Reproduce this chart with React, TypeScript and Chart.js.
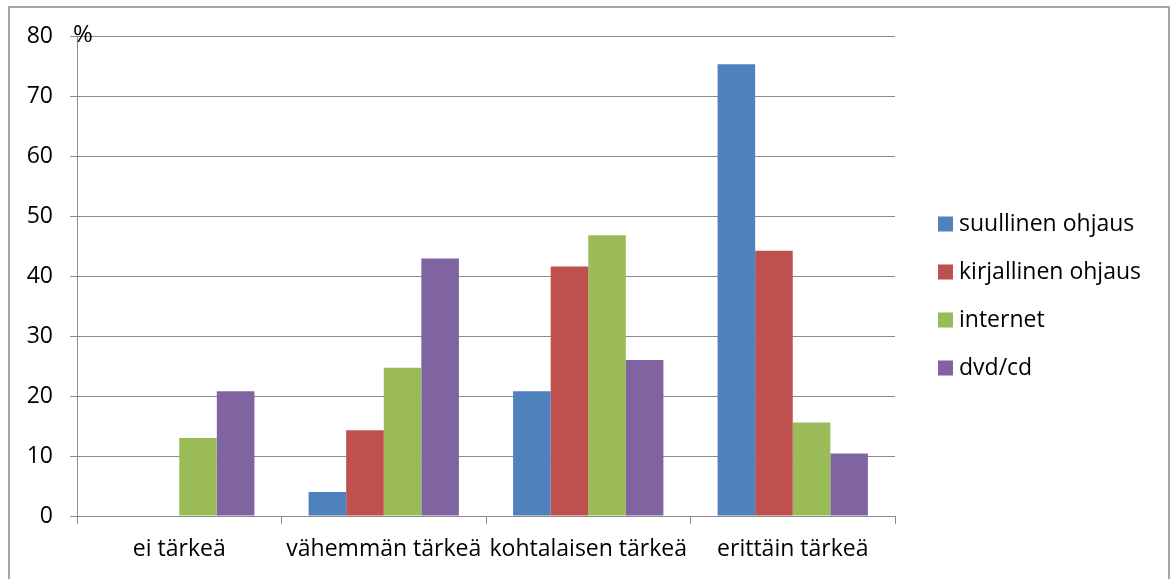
import React, { useEffect, useRef } from "react";
import { Chart, registerables } from "chart.js";

Chart.register(...registerables);

const categories = ["ei tärkeä", "vähemmän tärkeä", "kohtalaisen tärkeä", "erittäin tärkeä"];
const seriesNames = ["suullinen ohjaus", "kirjallinen ohjaus", "internet", "dvd/cd"];
const suullinen = [0, 4.0, 20.8, 75.3];
const kirjallinen = [0, 14.3, 41.6, 44.2];
const internet = [13.0, 24.7, 46.8, 15.6];
const dvdcd = [20.8, 42.9, 26.0, 10.4];
const seriesColors = ["#4F81BD", "#C0504D", "#9BBB59", "#8064A2"];
const yMin = 0;
const yMax = 80;
const yStep = 10;
const unitLabel = "%";

const FONT = "'Open Sans', 'Noto Sans', sans-serif";
const FONT_SIZE = 23;
const GRID = "#8c8c8c";

export default function App() {
  const ref = useRef<HTMLCanvasElement | null>(null);

  useEffect(() => {
    if (!ref.current) return;
    const values = [suullinen, kirjallinen, internet, dvdcd];

    const extras = {
      id: "extras",
      afterDraw(chart: any) {
        const ctx = chart.ctx;
        const ys = chart.scales.y;
        const area = chart.chartArea;
        ctx.save();
        ctx.fillStyle = "#000";
        ctx.font = `${FONT_SIZE + 1}px ${FONT}`;
        ctx.textBaseline = "middle";
        ctx.textAlign = "left";
        ctx.fillText(unitLabel, area.left - 4, ys.getPixelForValue(yMax) - 1);

        // legend
        ctx.font = `${FONT_SIZE}px ${FONT}`;
        const n = chart.data.datasets.length;
        const spacing = 48;
        const cy = 288;
        const startY = cy - ((n - 1) * spacing) / 2;
        const bx = 928;
        chart.data.datasets.forEach((ds: any, i: number) => {
          const y = startY + i * spacing;
          ctx.fillStyle = ds.backgroundColor;
          ctx.fillRect(bx, y - 7.5, 15, 15);
          ctx.fillStyle = "#000";
          ctx.fillText(ds.label, bx + 21, y);
        });
        ctx.restore();
      },
    };

    const chart = new Chart(ref.current, {
      type: "bar",
      data: {
        labels: categories,
        datasets: seriesNames.map((name, i) => ({
          label: name,
          data: values[i],
          backgroundColor: seriesColors[i],
          borderWidth: 0,
          barPercentage: 1,
          categoryPercentage: 0.735,
        })),
      },
      options: {
        animation: false,
        responsive: true,
        maintainAspectRatio: false,
        layout: { padding: { top: 28, right: 273, left: 0, bottom: 0 } },
        plugins: { legend: { display: false }, tooltip: { enabled: false } },
        scales: {
          x: {
            offset: true,
            grid: {
              offset: true,
              drawOnChartArea: false,
              drawTicks: true,
              tickLength: 8,
              color: GRID,
              lineWidth: 1,
            },
            border: { color: GRID, width: 1 },
            ticks: {
              color: "#000",
              font: { family: FONT, size: FONT_SIZE },
              padding: 12,
              maxRotation: 0,
              autoSkip: false,
            },
            afterFit(scale: any) {
              scale.height = 78;
              scale.paddingLeft = 0;
              scale.paddingRight = 0;
            },
          },
          y: {
            min: yMin,
            max: yMax,
            ticks: {
              stepSize: yStep,
              color: "#000",
              font: { family: FONT, size: FONT_SIZE },
              padding: 17,
            },
            grid: { color: GRID, lineWidth: 1, tickLength: 7 },
            border: { color: GRID, width: 1 },
            afterFit(scale: any) {
              scale.width = 67;
              scale.paddingTop = 0;
              scale.paddingBottom = 0;
            },
          },
        },
      },
      plugins: [extras],
    });
    return () => chart.destroy();
  }, []);

  return (
    <div
      style={{
        position: "fixed",
        left: 8,
        top: 6,
        width: 1162,
        height: 590,
        border: "2px solid #a6a6a6",
        boxSizing: "border-box",
        background: "#fff",
      }}
    >
      <div style={{ position: "relative", width: 1158, height: 586 }}>
        <canvas ref={ref} />
      </div>
    </div>
  );
}
